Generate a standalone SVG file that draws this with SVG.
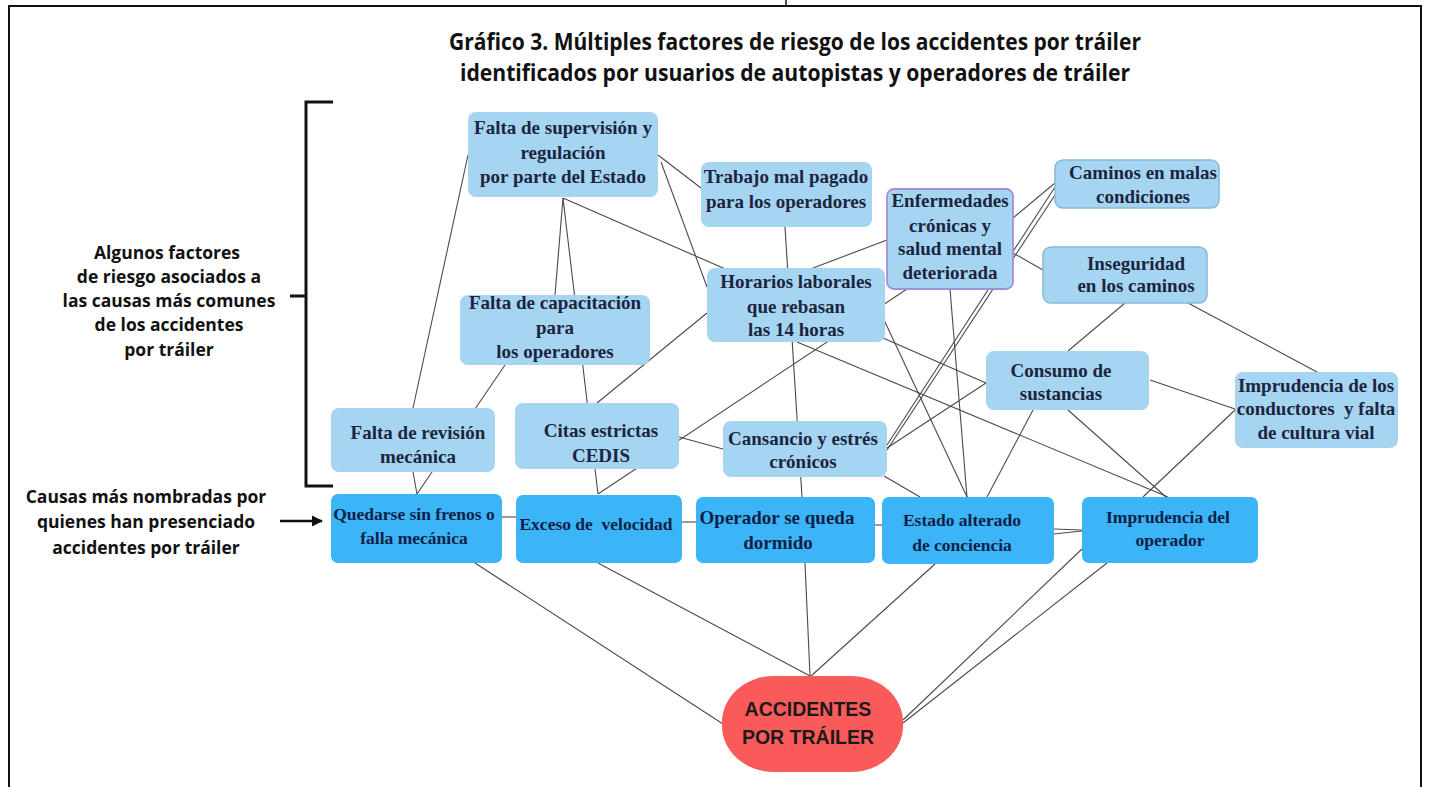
<svg xmlns="http://www.w3.org/2000/svg" width="1429" height="787" viewBox="0 0 1429 787">
<style>
.frame{fill:none;stroke:#111;stroke-width:2}
.br{fill:none;stroke:#111;stroke-width:3}
.ln{stroke:#4a4a4a;stroke-width:1.1;fill:none}
.f{fill:#a6d5f1}
.fb{fill:#a6d5f1;stroke:#86b8dc;stroke-width:1.5}
.fp{fill:#a6d5f1;stroke:#a58fd4;stroke-width:1.8}
.c{fill:#3cb4f8}
.r{fill:#fa5a5a}
.t{font-family:"Liberation Serif","Times New Roman",serif;font-weight:bold;font-size:19px;fill:#1b2440;text-anchor:middle}
.tc{font-family:"Liberation Serif","Times New Roman",serif;font-weight:bold;font-size:17.5px;fill:#0f1e45;text-anchor:middle}
.tr{font-family:"Liberation Sans",Arial,sans-serif;font-weight:bold;font-size:19.5px;fill:#1a1a1a;text-anchor:middle}
.lab{font-family:"Open Sans","Noto Sans",sans-serif;font-weight:bold;font-size:17.5px;fill:#111;text-anchor:middle}
.ti{font-family:"Open Sans","Noto Sans",sans-serif;font-weight:bold;font-size:22.5px;fill:#111}
</style>
<defs>
<marker id="ah" viewBox="0 0 10 10" refX="9" refY="5" markerWidth="4.5" markerHeight="4.5" orient="auto"><path d="M0,0 L10,5 L0,10 z" fill="#111"/></marker>
</defs>
<rect width="1429" height="787" fill="#fff"/>
<path class="frame" d="M9,800 V6 H1421 V800"/>
<line x1="786" y1="0" x2="786" y2="6" stroke="#111" stroke-width="1.5"/>
<g id="title">
<text class="ti" x="449" y="50" textLength="692" lengthAdjust="spacingAndGlyphs">Gráfico 3. Múltiples factores de riesgo de los accidentes por tráiler</text>
<text class="ti" x="460" y="81" textLength="670" lengthAdjust="spacingAndGlyphs">identificados por usuarios de autopistas y operadores de tráiler</text>
</g>
<g id="bracket">
<path class="br" d="M333,102 H306 V486 H333 M306,296 H290"/>
</g>
<g id="label-factores">
<text class="lab" x="167" y="259">Algunos factores</text>
<text class="lab" x="169" y="283">de riesgo asociados a</text>
<text class="lab" x="169" y="307">las causas más comunes</text>
<text class="lab" x="169" y="331">de los accidentes</text>
<text class="lab" x="169" y="356">por tráiler</text>
</g>
<g id="label-causas">
<text class="lab" x="146" y="503">Causas más nombradas por</text>
<text class="lab" x="146" y="528">quienes han presenciado</text>
<text class="lab" x="146" y="554">accidentes por tráiler</text>
<line x1="280" y1="521" x2="322" y2="521" stroke="#111" stroke-width="2.5" marker-end="url(#ah)"/>
</g>
<g id="connectors">
<line class="ln" x1="468" y1="155" x2="413" y2="408"/>
<line class="ln" x1="413" y1="472" x2="417" y2="494"/>
<line class="ln" x1="505" y1="365" x2="417" y2="494"/>
<line class="ln" x1="563" y1="198" x2="555" y2="295"/>
<line class="ln" x1="563" y1="198" x2="598" y2="494"/>
<line class="ln" x1="563" y1="198" x2="986" y2="383"/>
<line class="ln" x1="658" y1="155" x2="701" y2="188"/>
<line class="ln" x1="661" y1="162" x2="707" y2="287"/>
<line class="ln" x1="785" y1="227" x2="802" y2="497"/>
<line class="ln" x1="887" y1="240" x2="813" y2="268"/>
<line class="ln" x1="907" y1="289" x2="598" y2="494"/>
<line class="ln" x1="707" y1="313" x2="597" y2="403"/>
<line class="ln" x1="679" y1="437" x2="723" y2="449"/>
<line class="ln" x1="1013" y1="218" x2="1055" y2="183"/>
<line class="ln" x1="1055" y1="187" x2="887" y2="445"/>
<line class="ln" x1="1055" y1="195" x2="887" y2="450"/>
<line class="ln" x1="1013" y1="253" x2="1043" y2="270"/>
<line class="ln" x1="1125" y1="303" x2="1068" y2="351"/>
<line class="ln" x1="1188" y1="303" x2="1317" y2="372"/>
<line class="ln" x1="1150" y1="380" x2="1235" y2="409"/>
<line class="ln" x1="1068" y1="410" x2="1166" y2="497"/>
<line class="ln" x1="1033" y1="410" x2="987" y2="497"/>
<line class="ln" x1="1235" y1="410" x2="1143" y2="497"/>
<line class="ln" x1="797" y1="342" x2="1168" y2="497"/>
<line class="ln" x1="885" y1="322" x2="967" y2="497"/>
<line class="ln" x1="950" y1="289" x2="967" y2="497"/>
<line class="ln" x1="887" y1="448" x2="986" y2="383"/>
<line class="ln" x1="884" y1="476" x2="920" y2="497"/>
<line class="ln" x1="502" y1="517" x2="516" y2="517"/>
<line class="ln" x1="682" y1="522" x2="696" y2="522"/>
<line class="ln" x1="875" y1="525" x2="882" y2="525"/>
<line class="ln" x1="1054" y1="529" x2="1082" y2="530"/>
<line class="ln" x1="1054" y1="534" x2="1082" y2="531"/>
<line class="ln" x1="475" y1="563" x2="723" y2="724"/>
<line class="ln" x1="598" y1="563" x2="810" y2="676"/>
<line class="ln" x1="805" y1="563" x2="810" y2="676"/>
<line class="ln" x1="935" y1="564" x2="811" y2="676"/>
<line class="ln" x1="1082" y1="549" x2="903" y2="720"/>
<line class="ln" x1="1107" y1="563" x2="903" y2="723"/>
</g>
<g id="n-supervision">
<rect class="f" x="468" y="112" width="190" height="85" rx="8"/>
<text class="t" x="563" y="134">Falta de supervisión y</text>
<text class="t" x="563" y="159">regulación</text>
<text class="t" x="563" y="183">por parte del Estado</text>
</g>
<g id="n-trabajo">
<rect class="f" x="701" y="162" width="171" height="65" rx="8"/>
<text class="t" x="786" y="183">Trabajo mal pagado</text>
<text class="t" x="786" y="208">para los operadores</text>
</g>
<g id="n-enfermedades">
<rect class="fp" x="887" y="189" width="126" height="100" rx="7"/>
<text class="t" x="950" y="207">Enfermedades</text>
<text class="t" x="950" y="232">crónicas y</text>
<text class="t" x="950" y="255">salud mental</text>
<text class="t" x="950" y="279">deteriorada</text>
</g>
<g id="n-horarios">
<rect class="f" x="707" y="268" width="178" height="74" rx="8"/>
<text class="t" x="796" y="288">Horarios laborales</text>
<text class="t" x="796" y="313">que rebasan</text>
<text class="t" x="796" y="336">las 14 horas</text>
</g>
<g id="n-caminos">
<rect class="fb" x="1055" y="160" width="164" height="48" rx="8"/>
<text class="t" x="1143" y="179">Caminos en malas</text>
<text class="t" x="1143" y="203">condiciones</text>
</g>
<g id="n-inseguridad">
<rect class="fb" x="1043" y="247" width="164" height="56" rx="8"/>
<text class="t" x="1136" y="270">Inseguridad</text>
<text class="t" x="1136" y="292">en los caminos</text>
</g>
<g id="n-consumo">
<rect class="f" x="986" y="351" width="163" height="59" rx="8"/>
<text class="t" x="1061" y="377">Consumo de</text>
<text class="t" x="1061" y="400">sustancias</text>
</g>
<g id="n-imprudencia-conductores">
<rect class="f" x="1235" y="372" width="163" height="76" rx="8"/>
<text class="t" x="1316" y="392">Imprudencia de los</text>
<text class="t" x="1316" y="415" xml:space="preserve">conductores  y falta</text>
<text class="t" x="1316" y="439">de cultura vial</text>
</g>
<g id="n-capacitacion">
<rect class="f" x="460" y="295" width="190" height="70" rx="8"/>
<text class="t" x="555" y="309">Falta de capacitación</text>
<text class="t" x="555" y="334">para</text>
<text class="t" x="555" y="358">los operadores</text>
</g>
<g id="n-revision">
<rect class="f" x="331" y="408" width="164" height="64" rx="8"/>
<text class="t" x="418" y="439">Falta de revisión</text>
<text class="t" x="418" y="463">mecánica</text>
</g>
<g id="n-citas">
<rect class="f" x="515" y="403" width="164" height="66" rx="8"/>
<text class="t" x="601" y="437">Citas estrictas</text>
<text class="t" x="601" y="462">CEDIS</text>
</g>
<g id="n-cansancio">
<rect class="f" x="723" y="421" width="164" height="56" rx="8"/>
<text class="t" x="803" y="445">Cansancio y estrés</text>
<text class="t" x="803" y="468">crónicos</text>
</g>
<g id="n-quedarse">
<rect class="c" x="331" y="494" width="171" height="69" rx="7"/>
<text class="tc" x="414" y="520">Quedarse sin frenos o</text>
<text class="tc" x="414" y="544">falla mecánica</text>
</g>
<g id="n-exceso">
<rect class="c" x="516" y="495" width="166" height="68" rx="7"/>
<text class="tc" x="596" y="530" xml:space="preserve">Exceso de  velocidad</text>
</g>
<g id="n-operador">
<rect class="c" x="696" y="497" width="179" height="66" rx="7"/>
<text class="tc" x="777" y="524" style="font-size:19px">Operador se queda</text>
<text class="tc" x="778" y="549" style="font-size:19px">dormido</text>
</g>
<g id="n-estado">
<rect class="c" x="882" y="497" width="172" height="67" rx="7"/>
<text class="tc" x="962" y="526">Estado alterado</text>
<text class="tc" x="962" y="551">de conciencia</text>
</g>
<g id="n-imprudencia-operador">
<rect class="c" x="1082" y="497" width="176" height="66" rx="7"/>
<text class="tc" x="1168" y="523">Imprudencia del</text>
<text class="tc" x="1170" y="546">operador</text>
</g>
<g id="n-accidentes">
<rect class="r" x="722" y="676" width="181" height="96" rx="52" ry="46"/>
<text class="tr" x="808" y="716">ACCIDENTES</text>
<text class="tr" x="808" y="744">POR TRÁILER</text>
</g>
</svg>
